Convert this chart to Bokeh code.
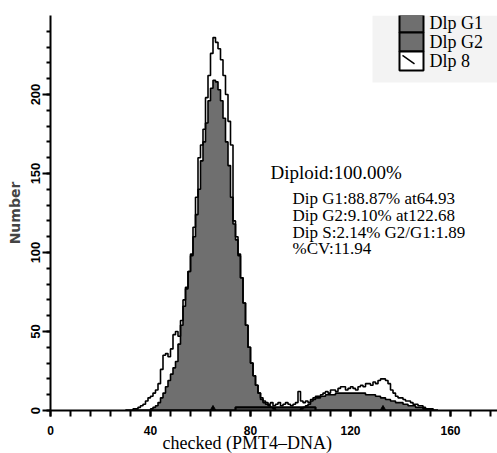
from bokeh.plotting import figure
from bokeh.models import (ColumnDataSource, FixedTicker, Range1d, Label,
                          BoxAnnotation, Title)
from bokeh.embed import file_html
from bokeh.resources import INLINE

# ---------------- data ----------------
bins = list(range(30, 156))  # channel (left edge of each 1-unit bin)

raw_dlp8 = [
    0, 0, 0, 1, 1, 2, 3, 4, 6, 8,                 # 30-39
    9, 11, 13, 17, 26, 35, 36, 34, 39, 48,        # 40-49
    50, 47, 57, 70, 78, 88, 98, 116, 135, 160,    # 50-59
    168, 178, 198, 212, 226, 236, 233, 229, 222, 212,  # 60-69
    200, 183, 168, 120, 110, 99, 84, 68, 54, 40,  # 70-79
    30, 22, 16, 11, 8, 6, 5, 4, 5, 3,             # 80-89
    4, 5, 3, 4, 5, 4, 3, 4, 5, 12,                # 90-99
    6, 5, 6, 5, 7, 8, 9, 8, 10, 11,               # 100-109
    12, 11, 13, 13, 12, 14, 15, 15, 13, 14,       # 110-119
    15, 14, 13, 15, 16, 15, 17, 17, 16, 18,       # 120-129
    17, 19, 20, 20, 19, 17, 13, 11, 9, 8,         # 130-139
    8, 7, 6, 6, 5, 4, 4, 3, 3, 2,                 # 140-149
    1, 1, 1, 0, 0, 0,                             # 150-155
]

dip_g1 = [
    0, 0, 0, 0, 0, 0, 0, 0, 0, 0,                 # 30-39
    1, 2, 3, 5, 8, 11, 15, 19, 23, 27,            # 40-49
    31, 42, 54, 66, 77, 88, 99, 110, 124, 140,    # 50-59
    158, 170, 182, 196, 204, 209, 208, 203, 196, 185,  # 60-69
    170, 155, 135, 118, 108, 98, 84, 68, 54, 40,  # 70-79
    30, 22, 16, 11, 7, 5, 4, 3, 2, 1,             # 80-89
    0, 0, 0, 0, 0, 0, 0, 0, 0, 0,                 # 90-99
    0, 0, 0, 0, 0, 0, 0, 0, 0, 0,                 # 100-109
    0, 0, 0, 0, 0, 0, 0, 0, 0, 0,                 # 110-119
    0, 0, 0, 0, 0, 0, 0, 0, 0, 0,                 # 120-129
    0, 0, 0, 0, 0, 0, 0, 0, 0, 0,                 # 130-139
    0, 0, 0, 0, 0, 0, 0, 0, 0, 0,                 # 140-149
    0, 0, 0, 0, 0, 0,                             # 150-155
]

dip_s = [
    0, 0, 0, 0, 0, 0, 0, 0, 0, 0,                 # 30-39
    0, 0, 0, 0, 0, 0, 0, 0, 0, 0,                 # 40-49
    0, 0, 0, 0, 0, 0, 0, 0, 0, 0,                 # 50-59
    0, 0, 0, 0, 0, 0, 0, 0, 0, 0,                 # 60-69
    0, 0, 0, 0, 2, 2, 2, 2, 2, 2,                 # 70-79
    2, 2, 2, 2, 2, 2, 2, 2, 2, 2,                 # 80-89
    2, 2, 2, 2, 2, 2, 2, 2, 2, 2,                 # 90-99
    2, 2, 2, 2, 2, 2, 0, 0, 0, 0,                 # 100-109
    0, 0, 0, 0, 0, 0, 0, 0, 0, 0,                 # 110-119
    0, 0, 0, 0, 0, 0, 0, 0, 0, 0,                 # 120-129
    0, 0, 0, 0, 0, 0, 0, 0, 0, 0,                 # 130-139
    0, 0, 0, 0, 0, 0, 0, 0, 0, 0,                 # 140-149
    0, 0, 0, 0, 0, 0,                             # 150-155
]

dip_g2 = [
    0, 0, 0, 0, 0, 0, 0, 0, 0, 0,                 # 30-39
    0, 0, 0, 0, 0, 0, 0, 0, 0, 0,                 # 40-49
    0, 0, 0, 0, 0, 0, 0, 0, 0, 0,                 # 50-59
    0, 0, 0, 0, 0, 0, 0, 0, 0, 0,                 # 60-69
    0, 0, 0, 0, 0, 0, 0, 0, 0, 0,                 # 70-79
    0, 0, 0, 0, 0, 0, 0, 0, 0, 0,                 # 80-89
    0, 0, 0, 0, 0, 0, 0, 0, 0, 0,                 # 90-99
    1, 2, 3, 4, 6, 7, 8, 9, 9, 9,                 # 100-109
    10, 10, 10, 10, 11, 11, 11, 11, 11, 11,       # 110-119
    11, 11, 11, 11, 11, 11, 10, 10, 10, 10,       # 120-129
    9, 9, 8, 8, 7, 7, 6, 6, 5, 5,                 # 130-139
    5, 4, 4, 3, 3, 3, 2, 2, 2, 1,                 # 140-149
    1, 1, 1, 0, 0, 0,                             # 150-155
]

peak_marks = [65, 133]

x_ticks = [0, 40, 80, 120, 160]
x_minor = list(range(0, 177, 8))
y_ticks = [0, 50, 100, 150, 200]
y_minor = list(range(0, 241, 10))

legend_labels = ["Dlp G1", "Dlp G2", "Dlp 8"]
stats_title = "Diploid:100.00%"
stats_lines = ["Dip G1:88.87% at64.93", "Dip G2:9.10% at122.68",
               "Dip S:2.14% G2/G1:1.89", "%CV:11.94"]
x_title = "checked (PMT4\u2013DNA)"
y_title = "Number"

# ---------------- figure ----------------
GRAY = "#6f6f6f"
SERIF = "Liberation Serif"

p = figure(width=497, height=453, output_backend="svg", toolbar_location=None,
           x_range=Range1d(0, 178.8), y_range=Range1d(0, 250),
           min_border_left=50, min_border_right=0, min_border_top=15,
           min_border_bottom=43)
p.outline_line_color = None
p.grid.visible = False
p.background_fill_color = "white"

src = ColumnDataSource(dict(x=bins, raw=raw_dlp8, g1=dip_g1, s=dip_s, g2=dip_g2))

# model fills
for col in ("g1", "s", "g2"):
    p.varea_step(x="x", y1=0, y2=col, source=src, step_mode="after",
                 fill_color=GRAY)

# model outlines
p.step(x="x", y="g1", source=src, mode="after", line_color="black", line_width=1.6)
p.step(x="x", y="s", source=src, mode="after", line_color="black", line_width=2.2)
p.step(x="x", y="g2", source=src, mode="after", line_color="black", line_width=1.6)

# raw data outline
p.step(x="x", y="raw", source=src, mode="after", line_color="black", line_width=1.6)

# peak markers
p.scatter(x=peak_marks, y=[1, 1], marker="triangle", size=6,
          fill_color="black", line_color="black")

# ---------------- axes ----------------
xa = p.xaxis[0]
xa.ticker = FixedTicker(ticks=x_ticks, minor_ticks=x_minor)
xa.axis_line_width = 2
xa.major_tick_line_width = 2
xa.minor_tick_line_width = 2
xa.major_tick_out = 6
xa.major_tick_in = 0
xa.minor_tick_out = 6
xa.minor_tick_in = 0
xa.major_label_text_font = "Liberation Sans"
xa.major_label_text_font_style = "bold"
xa.major_label_text_font_size = "12px"
xa.major_label_standoff = 9
xa.major_label_text_color = "black"

ya = p.yaxis[0]
ya.ticker = FixedTicker(ticks=y_ticks, minor_ticks=y_minor)
ya.axis_line_width = 2
ya.major_tick_line_width = 2
ya.minor_tick_line_width = 2
ya.major_tick_out = 8
ya.major_tick_in = 0
ya.minor_tick_out = 4
ya.minor_tick_in = 0
ya.major_label_orientation = "vertical"
ya.major_label_text_font = "Liberation Sans"
ya.major_label_text_font_style = "bold"
ya.major_label_text_font_size = "13px"
ya.major_label_standoff = 3
ya.major_label_text_color = "black"
ya.axis_label = y_title
ya.axis_label_text_font = "DejaVu Sans"
ya.axis_label_text_font_style = "bold"
ya.axis_label_text_font_size = "14px"
ya.axis_label_standoff = 5

# x-axis title (sits left of the frame centre)
p.add_layout(Title(text=x_title, align="left", offset=112, text_font=SERIF,
                   text_font_size="18px", text_font_style="normal",
                   text_color="black", standoff=-14), "below")

# ---------------- statistics text ----------------
p.add_layout(Label(x=88, y=150.6, text=stats_title, text_font=SERIF,
                   text_font_size="19px", text_baseline="middle",
                   text_color="black"))
for txt, yy in zip(stats_lines, [134.2, 123.4, 112.7, 102.5]):
    p.add_layout(Label(x=96.8, y=yy, text=txt, text_font=SERIF,
                       text_font_size="17px", text_baseline="middle",
                       text_color="black"))

# ---------------- legend (drawn by hand) ----------------
p.add_layout(BoxAnnotation(left=128.8, right=178.8, bottom=207.6, top=250,
                           fill_color="#f3f3f3", fill_alpha=1, line_color=None,
                           level="underlay"))

sw_left, sw_right = 139.6, 149.2
sw_edges = [250.5, 239.2, 227.2, 215.2]
sw_fill = [GRAY, GRAY, "white"]
p.quad(left=[sw_left] * 3, right=[sw_right] * 3, top=sw_edges[:3],
       bottom=sw_edges[1:], fill_color=sw_fill, line_color="black",
       line_width=2)
p.segment(x0=[140.8], y0=[224.7], x1=[145.6], y1=[219.4], line_color="black",
          line_width=1.5)
for lab, yy in zip(legend_labels, [245.5, 233.5, 221.5]):
    p.add_layout(Label(x=151.6, y=yy, text=lab, text_font=SERIF,
                       text_font_size="18px", text_baseline="middle",
                       text_color="black"))

open("out.html", "w").write(file_html(p, INLINE))
